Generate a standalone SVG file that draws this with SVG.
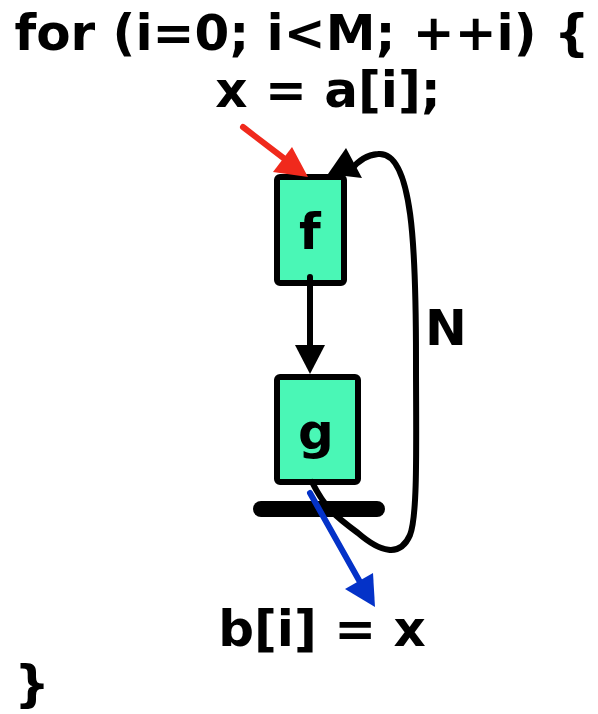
<svg xmlns="http://www.w3.org/2000/svg" width="598" height="714" viewBox="0 0 598 714">
<style>
text{font-family:"DejaVu Sans","Liberation Sans",sans-serif;font-weight:bold;font-size:50px;fill:#000;text-anchor:middle}
.box{fill:#4af7b6;stroke:#000;stroke-width:6}
.ln{fill:none;stroke-width:6;stroke-linecap:round}
</style>
<rect width="598" height="714" fill="#fff"/>
<g id="code">
<text x="302" y="50">for (i=0; i&lt;M; ++i) {</text>
<text x="328" y="107">x = a[i];</text>
<text x="322" y="646">b[i] = x</text>
<text x="32" y="701">}</text>
</g>
<g id="f"><rect class="box" x="277" y="177" width="67" height="106" rx="3"/><text x="310" y="249">f</text></g>
<g id="g"><rect class="box" x="277" y="377" width="81" height="105" rx="3"/><text x="316" y="449">g</text></g>
<g id="delay"><line x1="261" y1="509" x2="377" y2="509" stroke="#000" stroke-width="16" stroke-linecap="round"/></g>
<g id="connectors">
<line class="ln" x1="310" y1="277" x2="310" y2="350" stroke="#000"/>
<polygon points="295,345 325,345 310,374" fill="#000"/>
<path class="ln" stroke="#000" d="M312,482 C325,508 335,516 358,533 C380,552 400,558 410,535 C418,515 416,440 416,360 C416,250 413,150 378,154 C366,155 357,162 351,170"/>
<polygon points="346,148 328,174 362,178" fill="#000"/>
<line class="ln" x1="243" y1="127" x2="290" y2="163" stroke="#f0291c"/>
<polygon points="292,147 273,172 308,177" fill="#f0291c"/>
<line class="ln" x1="310" y1="493" x2="360" y2="582" stroke="#0432c8"/>
<polygon points="345,589 373,573 375,607" fill="#0432c8"/>
<text x="446" y="345">N</text>
</g>
</svg>
